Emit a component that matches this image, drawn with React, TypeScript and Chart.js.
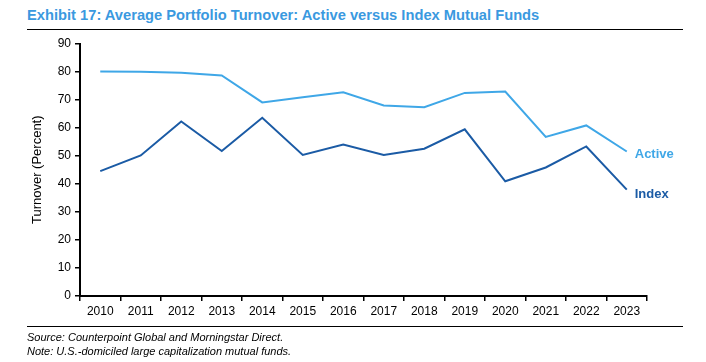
import { useEffect, useRef } from "react";
import { Chart, registerables } from "chart.js";

Chart.register(...registerables);

const years = ["2010", "2011", "2012", "2013", "2014", "2015", "2016", "2017", "2018", "2019", "2020", "2021", "2022", "2023"];
const activeTurnover = [80.0, 79.9, 79.6, 78.6, 69.0, 70.8, 72.6, 67.9, 67.3, 72.4, 72.9, 56.7, 60.8, 51.5];
const indexTurnover = [44.5, 50.1, 62.2, 51.7, 63.5, 50.3, 54.0, 50.3, 52.5, 59.4, 40.9, 45.8, 53.3, 37.9];
const yMin = 0;
const yMax = 90;
const yStep = 10;

const FONT = '"Liberation Sans", Arial, Helvetica, sans-serif';
const ACTIVE_COLOR = "#3fa7e7";
const INDEX_COLOR = "#1b5ba5";
const TITLE_COLOR = "#3a99df";

const endLabels = {
  id: "endLabels",
  afterDatasetsDraw(chart: any) {
    const ctx = chart.ctx;
    chart.data.datasets.forEach((ds: any, i: number) => {
      const meta = chart.getDatasetMeta(i);
      const pt = meta.data[meta.data.length - 1];
      if (!pt) return;
      ctx.save();
      ctx.font = `bold 13px ${FONT}`;
      ctx.fillStyle = ds.borderColor;
      ctx.textBaseline = "middle";
      ctx.textAlign = "left";
      ctx.fillText(ds.label, pt.x + 8, pt.y + (ds.labelDy || 0));
      ctx.restore();
    });
  },
};

export default function App() {
  const canvasRef = useRef<HTMLCanvasElement | null>(null);

  useEffect(() => {
    if (!canvasRef.current) return;
    const chart = new Chart(canvasRef.current, {
      type: "line",
      data: {
        labels: years,
        datasets: [
          {
            label: "Active",
            data: activeTurnover,
            borderColor: ACTIVE_COLOR,
            backgroundColor: ACTIVE_COLOR,
            borderWidth: 2,
            pointRadius: 0,
            tension: 0,
            labelDy: 3,
          } as any,
          {
            label: "Index",
            data: indexTurnover,
            borderColor: INDEX_COLOR,
            backgroundColor: INDEX_COLOR,
            borderWidth: 2,
            pointRadius: 0,
            tension: 0,
            labelDy: 5,
          } as any,
        ],
      },
      options: {
        responsive: false,
        animation: false,
        devicePixelRatio: 1,
        layout: { padding: { top: 43.5, right: 59, bottom: 0, left: 0 } },
        plugins: {
          legend: { display: false },
          tooltip: { enabled: false },
          title: { display: false },
        },
        scales: {
          x: {
            type: "category",
            offset: true,
            grid: {
              offset: true,
              drawOnChartArea: false,
              drawTicks: true,
              tickLength: 5,
              color: "#000",
              lineWidth: 1.5,
            },
            border: { display: true, color: "#000", width: 2 },
            ticks: {
              color: "#000",
              font: { family: FONT, size: 12 },
              padding: 3,
              maxRotation: 0,
              autoSkip: false,
            },
            afterFit: (s: any) => {
              s.height = 66;
            },
          },
          y: {
            min: yMin,
            max: yMax,
            ticks: {
              stepSize: yStep,
              color: "#000",
              font: { family: FONT, size: 12 },
              padding: 4,
            },
            grid: {
              drawOnChartArea: false,
              drawTicks: true,
              tickLength: 5,
              color: "#000",
              lineWidth: 1.5,
            },
            border: { display: true, color: "#000", width: 2 },
            title: {
              display: true,
              text: "Turnover (Percent)",
              color: "#000",
              font: { family: FONT, size: 13 },
              padding: { top: 30, bottom: 0 },
            },
            afterFit: (s: any) => {
              s.width = 80;
            },
          },
        },
      },
      plugins: [endLabels],
    });
    return () => chart.destroy();
  }, []);

  return (
    <div style={{ position: "fixed", left: 0, top: 0, width: 706, height: 362, background: "#fff", overflow: "hidden" }}>
      <div
        style={{
          position: "absolute",
          left: 27,
          top: 7,
          fontFamily: FONT,
          fontWeight: "bold",
          fontSize: 14.7,
          lineHeight: "17px",
          color: TITLE_COLOR,
          whiteSpace: "nowrap",
        }}
      >
        Exhibit 17: Average Portfolio Turnover: Active versus Index Mutual Funds
      </div>
      <div style={{ position: "absolute", left: 27, top: 29, width: 656, height: 0, borderTop: "1.5px solid #000" }} />
      <canvas ref={canvasRef} width={706} height={362} style={{ position: "absolute", left: 0, top: 0, width: 706, height: 362 }} />
      <div style={{ position: "absolute", left: 27, top: 326, width: 656, height: 0, borderTop: "1.5px solid #000" }} />
      <div
        style={{
          position: "absolute",
          left: 27,
          top: 330,
          fontFamily: FONT,
          fontStyle: "italic",
          fontSize: 11,
          lineHeight: "14px",
          color: "#000",
          whiteSpace: "nowrap",
        }}
      >
        <div>Source: Counterpoint Global and Morningstar Direct.</div>
        <div>Note: U.S.-domiciled large capitalization mutual funds.</div>
      </div>
    </div>
  );
}
